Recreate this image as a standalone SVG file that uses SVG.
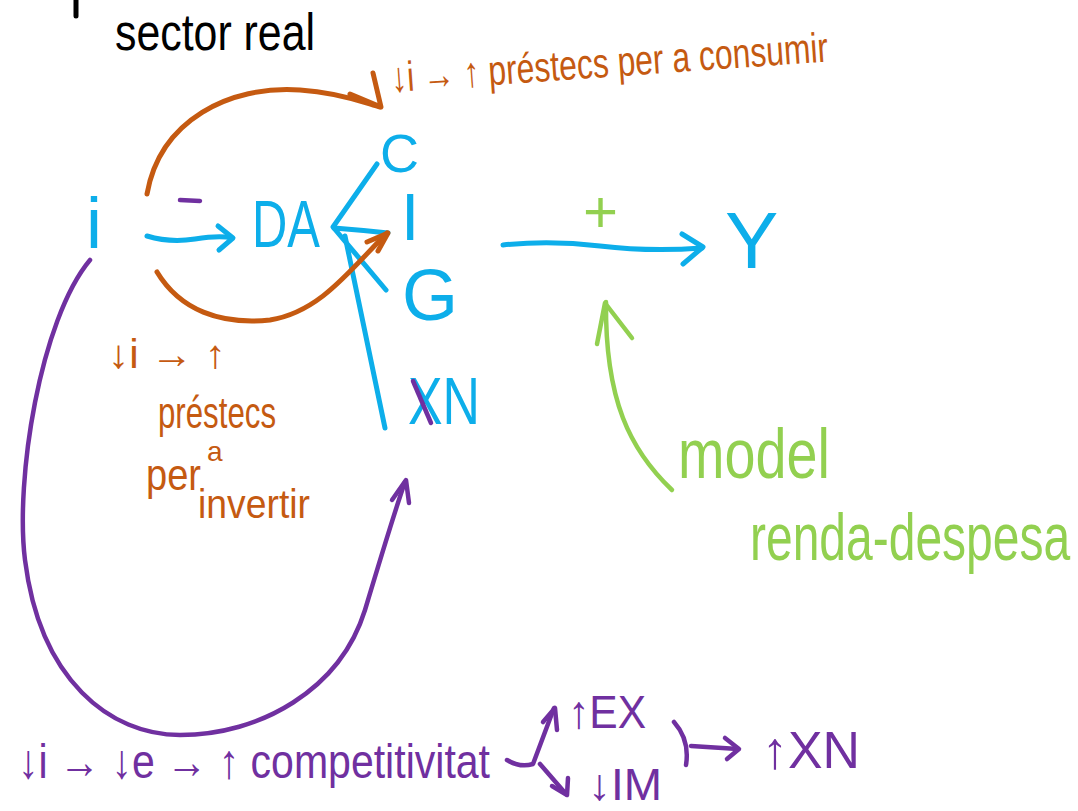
<svg xmlns="http://www.w3.org/2000/svg" width="1078" height="811" viewBox="0 0 1078 811">
  <defs>
    <style>
      .blue { fill: none; stroke: #0DAEEA; stroke-width: 5; stroke-linecap: round; stroke-linejoin: round; }
      .orange { fill: none; stroke: #C55A11; stroke-width: 5; stroke-linecap: round; stroke-linejoin: round; }
      .purple { fill: none; stroke: #7030A0; stroke-width: 4.5; stroke-linecap: round; stroke-linejoin: round; }
      .green { fill: none; stroke: #92D050; stroke-width: 4.5; stroke-linecap: round; stroke-linejoin: round; }
      .ink { fill: none; stroke: #000; stroke-width: 5; stroke-linecap: round; }
      text { font-family: "Liberation Sans", "DejaVu Sans", sans-serif; }
      .tb { fill: #0DAEEA; }
      .to { fill: #C55A11; }
      .tp { fill: #7030A0; }
      .tg { fill: #92D050; }
      .tk { fill: #000; }
    </style>
  </defs>
  <rect width="1078" height="811" fill="#fff"/>

  <!-- heading -->
  <g id="heading">
    <line class="ink" x1="76" y1="0" x2="76" y2="16"/>
    <text class="tk" x="115" y="50" font-size="52" textLength="200" lengthAdjust="spacingAndGlyphs">sector real</text>
  </g>

  <!-- connectors -->
  <g id="connectors">
    <!-- i to DA -->
    <path class="blue" d="M147 236 Q170 243 195 239 T232 238"/>
    <path class="blue" d="M218 226 L233 238 L219 250"/>
    <!-- C, I, G, XN into DA -->
    <path class="blue" d="M377 164 L333 227 L386 290"/>
    <path class="blue" d="M388 233 Q360 230 334 228"/>
    <path class="blue" d="M385 428 Q365 330 345 236"/>
    <!-- DA components to Y -->
    <path class="blue" d="M503 245 Q550 240 600 246 T702 248"/>
    <path class="blue" d="M682 234 L703 247 L683 264"/>
    <!-- rate cut on consumption -->
    <path class="orange" d="M147 194 C160 120 230 85 300 90 C345 93 370 105 380 107"/>
    <path class="orange" d="M350 94 L381 107 L373 73"/>
    <!-- rate cut on investment -->
    <path class="orange" d="M157 272 C180 310 220 325 270 320 C320 312 350 270 387 233"/>
    <path class="orange" d="M367 242 L388 233 L378 251"/>
    <!-- rate cut on net exports -->
    <path class="purple" d="M90 260 C40 320 15 480 25 560 C40 680 110 735 180 735 C260 735 340 690 365 610 C380 560 395 510 405 482"/>
    <path class="purple" d="M392 500 L406 480 L409 503"/>
    <!-- income-expenditure model pointer -->
    <path class="green" d="M672 490 C630 450 605 400 606 302"/>
    <path class="green" d="M597 344 L605 303 L632 338"/>
    <!-- competitiveness split -->
    <path class="purple" d="M507 760 Q520 768 533 764 L554 708"/>
    <path class="purple" d="M543 722 L555 708 L557 730"/>
    <path class="purple" d="M540 764 L566 794"/>
    <path class="purple" d="M552 786 L567 795 L568 778"/>
    <path class="purple" d="M674 722 Q690 740 686 765"/>
    <path class="purple" d="M691 746 L738 749"/>
    <path class="purple" d="M725 738 L739 749 L727 759"/>
  </g>

  <!-- nodes -->
  <g id="node-i">
    <text class="tb" x="86" y="248" font-size="72">i</text>
  </g>
  <g id="node-DA">
    <text class="tb" x="252" y="247" font-size="66" textLength="68" lengthAdjust="spacingAndGlyphs">DA</text>
    <path class="purple" d="M180 200 L200 201" stroke-width="8"/>
  </g>
  <g id="node-C">
    <text class="tb" x="380" y="172" font-size="54">C</text>
  </g>
  <g id="node-I">
    <text class="tb" x="401" y="240" font-size="66">I</text>
  </g>
  <g id="node-G">
    <text class="tb" x="402" y="320" font-size="72">G</text>
  </g>
  <g id="node-XN">
    <text class="tb" x="408" y="424" font-size="66" textLength="72" lengthAdjust="spacingAndGlyphs">XN</text>
    <path class="purple" d="M413 381 L431 423"/>
  </g>
  <g id="node-Y">
    <text class="tb" x="725" y="268" font-size="80">Y</text>
  </g>

  <!-- labels -->
  <g id="label-consum">
    <text class="to" x="392" y="92" font-size="42" textLength="438" lengthAdjust="spacingAndGlyphs" transform="rotate(-4 392 92)">↓i → ↑ préstecs per a consumir</text>
  </g>
  <g id="label-inversio">
    <text class="to" x="108" y="368" font-size="40" textLength="118" lengthAdjust="spacingAndGlyphs">↓i → ↑</text>
    <text class="to" x="158" y="428" font-size="44" textLength="118" lengthAdjust="spacingAndGlyphs">préstecs</text>
    <text class="to" x="146" y="490" font-size="44" textLength="55" lengthAdjust="spacingAndGlyphs">per</text>
    <text class="to" x="207" y="461" font-size="28">a</text>
    <text class="to" x="198" y="518" font-size="40" textLength="112" lengthAdjust="spacingAndGlyphs">invertir</text>
  </g>
  <g id="label-plus">
    <text class="tg" x="583" y="232" font-size="60">+</text>
  </g>
  <g id="label-model">
    <text class="tg" x="678" y="478" font-size="70" textLength="152" lengthAdjust="spacingAndGlyphs">model</text>
    <text class="tg" font-size="48" transform="translate(750 560) scale(1 1.4)">renda-despesa</text>
  </g>
  <g id="label-competitivitat">
    <text class="tp" x="18" y="778" font-size="48" textLength="472" lengthAdjust="spacingAndGlyphs">↓i → ↓e → ↑ competitivitat</text>
  </g>
  <g id="label-EX">
    <text class="tp" x="568" y="728" font-size="46" textLength="78" lengthAdjust="spacingAndGlyphs">↑EX</text>
  </g>
  <g id="label-IM">
    <text class="tp" x="588" y="800" font-size="44" textLength="74" lengthAdjust="spacingAndGlyphs">↓IM</text>
  </g>
  <g id="label-XN">
    <text class="tp" x="762" y="768" font-size="52" textLength="98" lengthAdjust="spacingAndGlyphs">↑XN</text>
  </g>
</svg>
